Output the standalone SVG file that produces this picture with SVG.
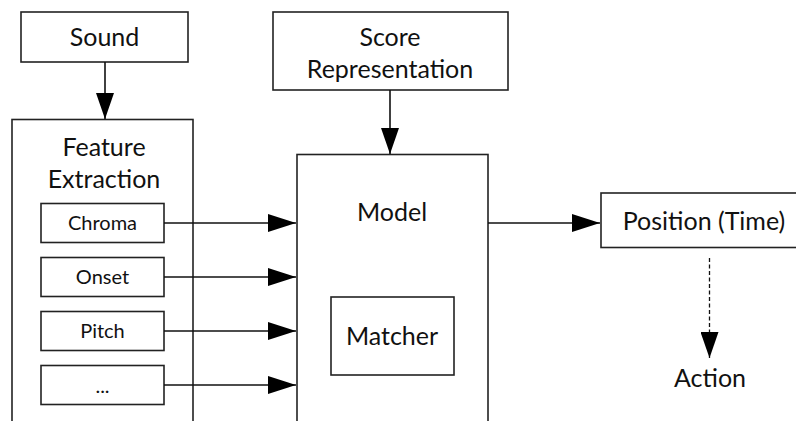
<svg xmlns="http://www.w3.org/2000/svg" width="796" height="421" viewBox="0 0 796 421">
<style>
rect{fill:#fff;stroke:#222;stroke-width:1.6}
.c{stroke:#111;stroke-width:1.6;fill:none}
.d{stroke:#111;stroke-width:1.3;fill:none;stroke-dasharray:4 2.5}
text{font-family:Lato,"Open Sans",sans-serif;fill:#111;text-anchor:middle}
.l{font-size:25px}
.s{font-size:20px}
</style>
<defs>
<marker id="a" viewBox="0 0 28 18" refX="28" refY="9" markerWidth="28" markerHeight="18" markerUnits="userSpaceOnUse" orient="auto"><path d="M0,0L28,9L0,18Z" fill="#000"/></marker>
<marker id="v" viewBox="0 0 26 18" refX="26" refY="9" markerWidth="26" markerHeight="18" markerUnits="userSpaceOnUse" orient="auto"><path d="M0,0L26,9L0,18Z" fill="#000"/></marker>
</defs>
<g id="sound"><rect x="21" y="12" width="167" height="50"/><text class="l" x="104.5" y="46">Sound</text></g>
<g id="feature"><rect x="12" y="119.5" width="181" height="310"/><text class="l" x="104" y="156">Feature</text><text class="l" x="104" y="188">Extraction</text></g>
<g id="chroma"><rect x="41" y="203.5" width="123" height="39"/><text class="s" x="102.5" y="230">Chroma</text></g>
<g id="onset"><rect x="41" y="257.5" width="123" height="39"/><text class="s" x="102.5" y="284">Onset</text></g>
<g id="pitch"><rect x="41" y="311.5" width="123" height="39"/><text class="s" x="102.5" y="338">Pitch</text></g>
<g id="more"><rect x="41" y="365.5" width="123" height="39"/><text class="s" x="102.5" y="393">...</text></g>
<g id="score"><rect x="273" y="12" width="235" height="78"/><text class="l" x="390" y="46">Score</text><text class="l" x="390" y="78">Representation</text></g>
<g id="model"><rect x="297" y="154.5" width="191" height="280"/><text class="l" x="392" y="221">Model</text></g>
<g id="matcher"><rect x="331" y="297" width="123" height="78"/><text class="l" x="392" y="345">Matcher</text></g>
<g id="position"><rect x="601" y="193" width="196" height="54.5"/><text class="l" x="704" y="230">Position (Time)</text></g>
<g id="action"><text class="l" x="710" y="387">Action</text></g>
<g id="connectors">
<path class="c" d="M105,62V119" marker-end="url(#v)"/>
<path class="c" d="M390,90V154" marker-end="url(#v)"/>
<path class="c" d="M164,223H296" marker-end="url(#a)"/>
<path class="c" d="M164,277H296" marker-end="url(#a)"/>
<path class="c" d="M164,331H296" marker-end="url(#a)"/>
<path class="c" d="M164,385H296" marker-end="url(#a)"/>
<path class="c" d="M488,223H600" marker-end="url(#a)"/>
<path class="d" d="M709.5,258V358" marker-end="url(#v)"/>
</g>
</svg>
